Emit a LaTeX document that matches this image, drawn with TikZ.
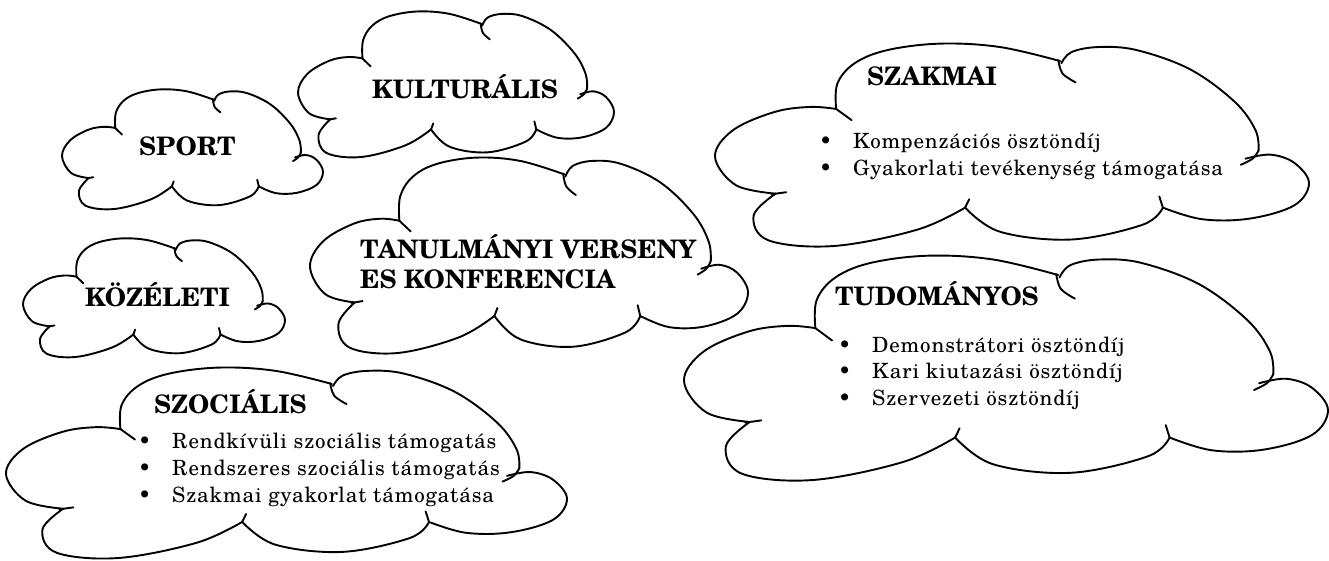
\documentclass[tikz,border=0pt]{standalone}
\usepackage{fontspec}
\setmainfont{texgyreschola}[Extension=.otf,UprightFont=*-regular,BoldFont=*-bold,ItalicFont=*-italic,BoldItalicFont=*-bolditalic]
\newfontfamily\itemfont{texgyreschola}[Extension=.otf,UprightFont=*-regular,LetterSpace=4]
\usepackage{tikz}

\tikzset{
  cloudline/.style={line width=1.9pt,line cap=round,line join=round},
  title/.style={font=\fontsize{25.5}{30}\selectfont\bfseries,anchor=base west,inner sep=0pt},
  item/.style={font=\itemfont\fontsize{21}{26}\selectfont,anchor=base west,inner sep=0pt,
    execute at begin node={\llap{\textbullet\hspace{21pt}}}},
  % one puffy cloud in a unit box, y downwards
  pics/cloud/.style={code={
    \draw[cloudline] plot[smooth,tension=.6] coordinates {(.204,.325) (.206,.2) (.235,.1) (.29,.035) (.38,.003) (.48,.02) (.581,.089)};
    \draw[cloudline] plot[smooth,tension=.6] coordinates {(.578,.085) (.585,.15) (.607,.194)};
    \draw[cloudline] plot[smooth,tension=.6] coordinates {(.583,.1) (.6,.045) (.645,.02) (.71,.035) (.8,.13) (.875,.29) (.91,.43) (.915,.53)};
    \draw[cloudline] plot[smooth,tension=.6] coordinates {(.915,.53) (.905,.57) (.885,.6)};
    \draw[cloudline] plot[smooth,tension=.6] coordinates {(.893,.57) (.935,.55) (.975,.59) (1,.69) (.975,.8) (.9,.865) (.82,.868) (.754,.811)};
    \draw[cloudline] plot[smooth,tension=.6] coordinates {(.754,.811) (.748,.756)};
    \draw[cloudline] plot[smooth,tension=.6] coordinates {(.754,.811) (.72,.895) (.6,.968) (.48,.93) (.421,.811)};
    \draw[cloudline] plot[smooth,tension=.6] coordinates {(.421,.811) (.428,.77)};
    \draw[cloudline] plot[smooth,tension=.6] coordinates {(.421,.811) (.34,.92) (.2,1) (.09,.972) (.065,.85) (.102,.742)};
    \draw[cloudline] plot[smooth,tension=.6] coordinates {(.095,.745) (.12,.735)};
    \draw[cloudline] plot[smooth,tension=.6] coordinates {(.102,.742) (.035,.7) (0,.56) (.03,.43) (.1,.34) (.16,.315) (.204,.325)};
    \draw[cloudline] plot[smooth,tension=.6] coordinates {(.204,.325) (.23,.38)};
  }}
}

\begin{document}
\begin{tikzpicture}[x=1pt,y=-1pt]
\useasboundingbox (0,0) rectangle (1329,560);
% clouds: left/top/width/height
\foreach \x/\y/\w/\h in {62/89/261/120,298/11/316/146,23/238/262/119,310/157/438/196,6/367/561/191,715/43/594/203,684/255/644/225}
  \pic[xscale=\w,yscale=\h] at (\x,\y) {cloud};
% titles
\node[title] (sport) at (139,155) {SPORT};
\node[title] (kult) at (372,98) {KULTURÁLIS};
\node[title] (kozel) at (85,306) {KÖZÉLETI};
\node[title] (tanul) at (360,258) {TANULMÁNYI VERSENY};
\node[title] (konf) at (360,288) {ES KONFERENCIA};
\node[title] (szoc) at (154,413) {SZOCIÁLIS};
\node[title] (szakm) at (867,85) {SZAKMAI};
\node[title] (tudom) at (835,305) {TUDOMÁNYOS};
% bullet lists
\foreach \t [count=\i] in {Kompenzációs ösztöndíj,Gyakorlati tevékenység támogatása}
  \node[item] (szakm\i) at (853,{148+27*(\i-1)}) {\t};
\foreach \t [count=\i] in {Demonstrátori ösztöndíj,Kari kiutazási ösztöndíj,Szervezeti ösztöndíj}
  \node[item] (tudom\i) at (872,{352+26.5*(\i-1)}) {\t};
\foreach \t [count=\i] in {Rendkívüli szociális támogatás,Rendszeres szociális támogatás,Szakmai gyakorlat támogatása}
  \node[item] (szoc\i) at (172,{448+27*(\i-1)}) {\t};
\end{tikzpicture}
\end{document}
